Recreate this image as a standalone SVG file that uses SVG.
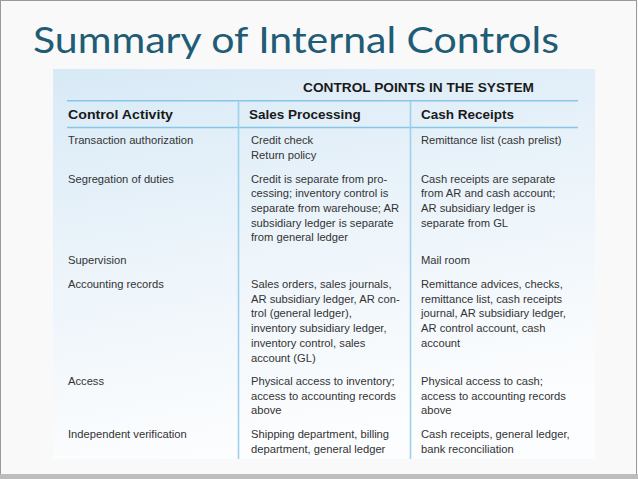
<svg xmlns="http://www.w3.org/2000/svg" width="638" height="479" viewBox="0 0 638 479">
<defs>
<linearGradient id="tblbg" x1="0" y1="0" x2="0.25" y2="1">
<stop offset="0" stop-color="#d8eaf7"/>
<stop offset="0.5" stop-color="#ecf4fa"/>
<stop offset="1" stop-color="#fcfdfe"/>
</linearGradient>
</defs>
<style>
.title{font-family:Lato,"Liberation Sans",sans-serif;font-size:37px;fill:#1f5c76}
.cap{font-family:"Liberation Sans",Arial,sans-serif;font-size:13px;font-weight:bold;fill:#1a1a1a}
.hd{font-family:"Liberation Sans",Arial,sans-serif;font-size:13.5px;font-weight:bold;fill:#1a1a1a}
.tx{font-family:"Liberation Sans",Arial,sans-serif;font-size:11.2px;fill:#333333}
.rule{stroke:#86c6e6;stroke-width:1.6;fill:none}
.vrule{stroke:#9fd1ea;stroke-width:1.6;fill:none}
</style>
<rect x="0" y="0" width="638" height="479" fill="#f9f9f9"/>
<rect x="0.5" y="0.5" width="636" height="478" fill="none" stroke="#9a9a9a" stroke-width="1"/>
<rect x="0" y="474" width="638" height="5" fill="#bdbdbd"/>
<g id="title"><text class="title" x="33" y="53" textLength="526" lengthAdjust="spacingAndGlyphs">Summary of Internal Controls</text></g>
<rect x="53" y="69" width="542" height="390" fill="url(#tblbg)"/>
<g id="table-lines">
<line class="rule" x1="67" y1="100.7" x2="578" y2="100.7"/>
<line class="rule" x1="67" y1="127.5" x2="578" y2="127.5"/>
<line class="vrule" x1="238.5" y1="100.7" x2="238.5" y2="459"/>
<line class="vrule" x1="410.5" y1="100.7" x2="410.5" y2="459"/>
</g>
<g id="caption"><text class="cap" x="303" y="92.3" textLength="231" lengthAdjust="spacingAndGlyphs">CONTROL POINTS IN THE SYSTEM</text></g>
<g id="header">
<text class="hd" x="68" y="119.3" textLength="105" lengthAdjust="spacingAndGlyphs">Control Activity</text>
<text class="hd" x="249" y="119.3">Sales Processing</text>
<text class="hd" x="421" y="119.3">Cash Receipts</text>
</g>
<g id="row-authorization">
<text class="tx" x="68" y="144.3">Transaction authorization</text>
<text class="tx" x="251" y="144.3">Credit check</text>
<text class="tx" x="251" y="159">Return policy</text>
<text class="tx" x="421" y="144.3">Remittance list (cash prelist)</text>
</g>
<g id="row-segregation">
<text class="tx" x="68" y="182.7">Segregation of duties</text>
<text class="tx" x="251" y="182.7">Credit is separate from pro-</text>
<text class="tx" x="251" y="197.4">cessing; inventory control is</text>
<text class="tx" x="251" y="212">separate from warehouse; AR</text>
<text class="tx" x="251" y="226.6">subsidiary ledger is separate</text>
<text class="tx" x="251" y="241.2">from general ledger</text>
<text class="tx" x="421" y="182.7">Cash receipts are separate</text>
<text class="tx" x="421" y="197.4">from AR and cash account;</text>
<text class="tx" x="421" y="212">AR subsidiary ledger is</text>
<text class="tx" x="421" y="226.6">separate from GL</text>
</g>
<g id="row-supervision">
<text class="tx" x="68" y="264">Supervision</text>
<text class="tx" x="421" y="264">Mail room</text>
</g>
<g id="row-records">
<text class="tx" x="68" y="288">Accounting records</text>
<text class="tx" x="251" y="288">Sales orders, sales journals,</text>
<text class="tx" x="251" y="302.7">AR subsidiary ledger, AR con-</text>
<text class="tx" x="251" y="317.4">trol (general ledger),</text>
<text class="tx" x="251" y="332.1">inventory subsidiary ledger,</text>
<text class="tx" x="251" y="346.8">inventory control, sales</text>
<text class="tx" x="251" y="361.5">account (GL)</text>
<text class="tx" x="421" y="288">Remittance advices, checks,</text>
<text class="tx" x="421" y="302.7">remittance list, cash receipts</text>
<text class="tx" x="421" y="317.4">journal, AR subsidiary ledger,</text>
<text class="tx" x="421" y="332.1">AR control account, cash</text>
<text class="tx" x="421" y="346.8">account</text>
</g>
<g id="row-access">
<text class="tx" x="68" y="385">Access</text>
<text class="tx" x="251" y="385">Physical access to inventory;</text>
<text class="tx" x="251" y="399.6">access to accounting records</text>
<text class="tx" x="251" y="414.2">above</text>
<text class="tx" x="421" y="385">Physical access to cash;</text>
<text class="tx" x="421" y="399.6">access to accounting records</text>
<text class="tx" x="421" y="414.2">above</text>
</g>
<g id="row-verification">
<text class="tx" x="68" y="438">Independent verification</text>
<text class="tx" x="251" y="438">Shipping department, billing</text>
<text class="tx" x="251" y="452.6">department, general ledger</text>
<text class="tx" x="421" y="438">Cash receipts, general ledger,</text>
<text class="tx" x="421" y="452.6">bank reconciliation</text>
</g>
</svg>
